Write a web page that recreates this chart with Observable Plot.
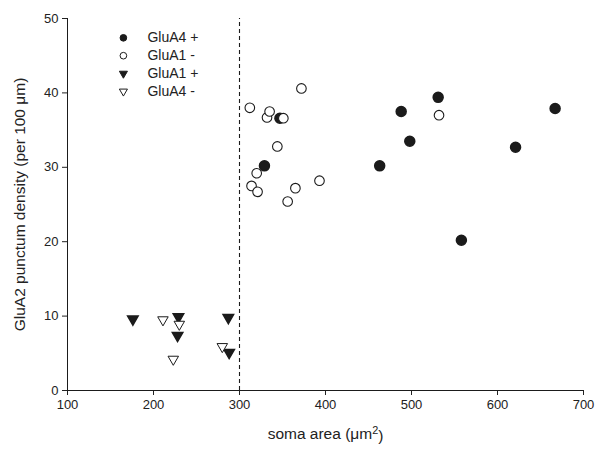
<!DOCTYPE html>
<html>
<head>
<meta charset="utf-8">
<script src="https://cdn.jsdelivr.net/npm/d3@7"></script>
<script src="https://cdn.jsdelivr.net/npm/@observablehq/plot@0.6"></script>
<style>
  html, body { margin: 0; padding: 0; background: #fff; }
  #chart svg { display: block; }
</style>
</head>
<body>
<div id="chart"></div>
<script>
// --- data (soma area µm², GluA2 punctum density per 100 µm) ---
const glua4PlusX  = [329, 347, 463, 488, 498, 531, 558, 621, 667];
const glua4PlusY  = [30.2, 36.6, 30.2, 37.5, 33.5, 39.4, 20.2, 32.7, 37.9];
const glua1MinusX = [312, 314, 320, 321, 332, 335, 344, 351, 356, 365, 372, 393, 532];
const glua1MinusY = [38.0, 27.5, 29.2, 26.7, 36.7, 37.5, 32.8, 36.6, 25.4, 27.2, 40.6, 28.2, 37.0];
const glua1PlusX  = [176, 228, 229, 287, 288];
const glua1PlusY  = [9.6, 7.4, 9.9, 9.8, 5.1];
const glua4MinusX = [211, 223, 230, 280];
const glua4MinusY = [9.5, 4.2, 8.9, 5.9];

const xTicks = [100, 200, 300, 400, 500, 600, 700];
const yTicks = [0, 10, 20, 30, 40, 50];
const cutoff = [300];

const legendLabels = ["GluA4 +", "GluA1 -", "GluA1 +", "GluA4 -"];
const legendSymbols = ["circle", "circle", "triangle", "triangle"];
const legendFilled = [true, false, true, false];

const xTitle = "soma area (\u03bcm";
const xTitleSup = "2";
const yTitle = "GluA2 punctum density (per 100 \u03bcm)";

const pts = (xs, ys) => xs.map((x, i) => ({x, y: ys[i]}));
const ink = "#1b1b1b";

// legend rows placed in data space in the upper-left of the frame
const legendRows = legendLabels.map((label, i) => ({
  label, symbol: legendSymbols[i], filled: legendFilled[i],
  x: 165, tx: 193, y: 47.4 - i * 2.4
}));

const chart = Plot.plot({
  width: 597,
  height: 454,
  marginLeft: 67,
  marginRight: 14,
  marginTop: 18,
  marginBottom: 64,
  style: { fontFamily: "'Liberation Sans', Arial, sans-serif", fontSize: "13px", color: "#222", background: "#fff" },
  x: { domain: [100, 700] },
  y: { domain: [0, 50] },
  marks: [
    Plot.axisX({ ticks: xTicks, tickSize: 5, tickPadding: 4, label: null, fontSize: 13 }),
    Plot.axisY({ ticks: yTicks, tickSize: 5, tickPadding: 4, label: null, fontSize: 13 }),
    Plot.ruleY([0], { stroke: ink }),
    Plot.ruleX([100], { stroke: ink }),
    Plot.ruleX(cutoff, { y1: 0, y2: 50, stroke: ink, strokeDasharray: "4,3", strokeWidth: 1.1 }),
    // data
    Plot.dot(pts(glua4PlusX, glua4PlusY), { x: "x", y: "y", r: 5, fill: ink, stroke: ink }),
    Plot.dot(pts(glua1PlusX, glua1PlusY), { x: "x", y: "y", r: 3.9, symbol: "triangle", rotate: 180, fill: ink, stroke: ink }),
    Plot.dot(pts(glua1MinusX, glua1MinusY), { x: "x", y: "y", r: 4.8, fill: "white", stroke: ink, strokeWidth: 1.1 }),
    Plot.dot(pts(glua4MinusX, glua4MinusY), { x: "x", y: "y", r: 3.9, symbol: "triangle", rotate: 180, fill: "white", stroke: ink, strokeWidth: 1 }),
    // legend
    Plot.dot(legendRows, { x: "x", y: "y", symbol: "symbol", r: d => d.symbol === "circle" ? 4.8 : 3.9,
      rotate: d => d.symbol === "triangle" ? 180 : 0,
      fill: d => d.filled ? ink : "white", stroke: ink, strokeWidth: 1 }),
    Plot.text(legendRows, { x: "tx", y: "y", text: "label", textAnchor: "start", fontSize: 14, fill: "#222" }),
    // axis titles
    Plot.text([xTitle], { frameAnchor: "bottom", textAnchor: "middle", dy: 48, fontSize: 15.5, fill: "#222", className: "xtitle" }),
    Plot.text([yTitle], { frameAnchor: "left", textAnchor: "middle", dx: -47, rotate: -90, fontSize: 15.5, fill: "#222" })
  ]
});
// add the superscript to the x title
d3.select(chart).selectAll("g.xtitle text").each(function() {
  const t = d3.select(this);
  t.append("tspan").attr("dy", "-0.45em").attr("font-size", "0.7em").text(xTitleSup);
  t.append("tspan").attr("dy", "0.45em").text(")");
});
document.getElementById("chart").appendChild(chart);
</script>
</body>
</html>
